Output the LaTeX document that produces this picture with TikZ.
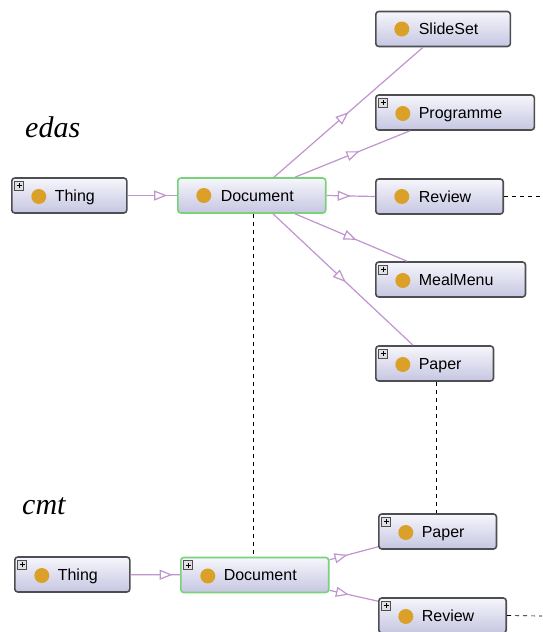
\documentclass[tikz,border=0pt]{standalone}
\usepackage{fontspec}
\setmainfont{Liberation Serif}
\setsansfont{Liberation Sans}
\usetikzlibrary{positioning,arrows.meta,decorations.markings}

\definecolor{boxline}{RGB}{78,78,82}
\definecolor{boxtop}{RGB}{246,246,252}
\definecolor{boxbot}{RGB}{198,198,226}
\definecolor{docline}{RGB}{120,210,120}
\definecolor{dotcol}{RGB}{218,160,40}
\definecolor{isacol}{RGB}{192,148,206}

\tikzset{
  cls/.style={draw=boxline, line width=1.6pt, rounded corners=3pt,
    top color=boxtop, bottom color=boxbot, minimum height=35pt, inner sep=0pt,
    font=\sffamily\fontsize{16}{16}\selectfont, text height=12pt, text depth=0.5pt,
    execute at begin node={\hspace*{43pt}}, execute at end node={\hspace*{32pt}},
    path picture={\fill[dotcol] ([xshift=26pt]path picture bounding box.west) circle (7.5pt);}},
  clsplus/.style={cls, path picture={
    \fill[dotcol] ([xshift=27pt,yshift=-1pt]path picture bounding box.west) circle (7.5pt);
    \draw[sharp corners, draw=boxline, fill=black!12, line width=0.7pt]
      ([xshift=3pt,yshift=-3pt]path picture bounding box.north west) rectangle ++(9pt,-9pt);
    \draw[sharp corners, black, line width=1pt]
      ([xshift=5pt,yshift=-7.5pt]path picture bounding box.north west) -- ++(5pt,0pt)
      ([xshift=7.5pt,yshift=-5pt]path picture bounding box.north west) -- ++(0pt,-5pt);}},
  docbox/.style={draw=docline},
  isa/.style={draw=isacol, line width=1.2pt, postaction={decorate, decoration={markings,
    mark=at position #1 with {\arrow[isacol, line width=1.2pt]{Triangle[open, fill=white, length=13pt, width=10pt]}}}}},
  isa/.default=0.5,
  seealso/.style={draw=black, line width=0.7pt, dash pattern=on 4pt off 4pt},
  onto/.style={font=\itshape\fontsize{30}{30}\selectfont, anchor=base west, inner sep=0pt}
}

\begin{document}
\begin{tikzpicture}[x=1pt,y=-1pt]
        \useasboundingbox (0,0) rectangle (542,632);
        % edas nodes
        \node[onto] (edas) at (25,137) {edas};
        \node[clsplus, anchor=west] (ething) at (11,195.5) {Thing};
        \node[cls, docbox, anchor=west] (edoc) at (177,195.5) {Document};
        \node[cls, anchor=west] (eslide) at (375,29) {SlideSet};
        \node[clsplus, anchor=west] (eprog) at (375,112.5) {Programme};
        \node[cls, anchor=west] (erev) at (375,196.5) {Review};
        \node[clsplus, anchor=west] (emeal) at (375,279.5) {MealMenu};
        \node[clsplus, anchor=west] (epaper) at (375,363.5) {Paper};
        \coordinate (erevend) at (542,196.5);

        % cmt nodes
        \node[onto] (cmt) at (22,514) {cmt};
        \node[clsplus, anchor=west] (cthing) at (14,574.5) {Thing};
        \node[clsplus, docbox, anchor=west] (cdoc) at (180,575) {Document};
        \node[clsplus, anchor=west] (cpaper) at (378,531.5) {Paper};
        \node[clsplus, anchor=west] (crev) at (378,615.5) {Review};
        \coordinate (crevend) at (542,616);

        % edas edges
        \draw[isa=0.8] (ething) -- (edoc);
        \draw[isa=0.5] ([xshift=97pt]edoc.north west) -- ([xshift=48pt]eslide.south west);
        \draw[isa=0.56] ([xshift=118pt]edoc.north west) -- ([xshift=35pt]eprog.south west);
        \draw[isa=0.5] (edoc.east) -- (erev.west);
        \draw[isa=0.55] ([xshift=118pt]edoc.south west) -- ([xshift=32pt]emeal.north west);
        \draw[isa=0.52] ([xshift=96pt]edoc.south west) -- ([xshift=38pt]epaper.north west);

        % cmt edges
        \draw[isa=0.85] (cthing) -- (cdoc);
        \draw[isa=0.37] ([yshift=-3pt]cdoc.north east) -- ([yshift=3pt]cpaper.south west);
        \draw[isa=0.4] ([yshift=3pt]cdoc.south east) -- ([yshift=-4pt]crev.north west);

        % mappings
        \draw[seealso] (erev.east) -- (erevend);
        \draw[seealso] (crev.east) -- (crevend);
        \draw[seealso] ([xshift=76pt]edoc.south west) -- ([xshift=73pt]cdoc.north west);
        \draw[seealso] ([xshift=61pt]epaper.south west) -- ([xshift=58pt]cpaper.north west);
    \end{tikzpicture}
\end{document}
